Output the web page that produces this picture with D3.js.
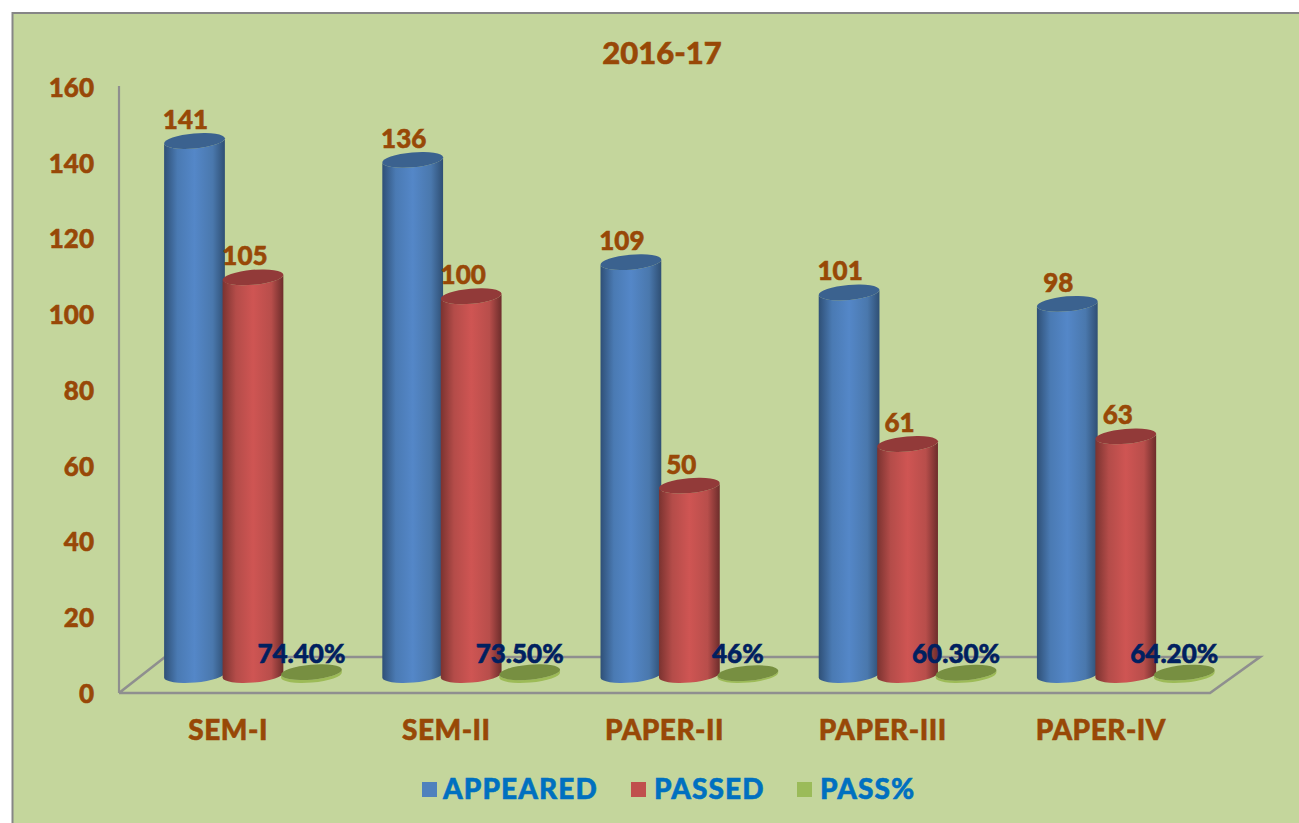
<!DOCTYPE html>
<html><head><meta charset="utf-8">
<script src="https://cdnjs.cloudflare.com/ajax/libs/d3/7.8.5/d3.min.js"></script>
<style>html,body{margin:0;padding:0;background:#fff;overflow:hidden}svg{display:block}
text{font-family:Lato,"Open Sans",sans-serif;font-weight:900;stroke-width:.55px}</style></head>
<body><svg id="c" width="1299" height="823"></svg>
<script>
const categories=["SEM-I","SEM-II","PAPER-II","PAPER-III","PAPER-IV"];
const appeared=[141,136,109,101,98];
const passed=[105,100,50,61,63];
const passPct=[0.744,0.735,0.46,0.603,0.642];
const passLabels=["74.40%","73.50%","46%","60.30%","64.20%"];
const seriesNames=["APPEARED","PASSED","PASS%"];
const yTicks=[0,20,40,60,80,100,120,140,160];

const W=1299,H=823,svg=d3.select("#c");
const BG="#c4d69c",BROWN="#984807",NAVY="#002060",LEG="#0070c0",GRID="#8f8f8f";
const x0=119,x1=1210,yB=693,yT=87,depthX=46,depthY=-36;
const x=d3.scaleBand().domain(categories).range([x0,x1]);
const y=d3.scaleLinear().domain([0,160]).range([yB,yT]);
const inner=d3.scalePoint().domain(seriesNames).range([x.bandwidth()*0.346,x.bandwidth()*0.882]);
const zOff=-18, rx=30.5, ry=7.5, tilt=-5;

const defs=svg.append("defs");
const palette={APPEARED:["#2f5077","#4a7ab3","#5487c8","#4a78ad","#2f4f74"],
 PASSED:["#7b3330","#b44c49","#cf5553","#b84e4b","#6d2d2b"]};
seriesNames.slice(0,2).forEach(s=>{
  const g=defs.append("linearGradient").attr("id","g"+s);
  [0,.22,.5,.8,1].forEach((o,i)=>g.append("stop").attr("offset",o).attr("stop-color",palette[s][i]));
});

svg.append("rect").attr("x",12.5).attr("y",13).attr("width",W).attr("height",H).attr("fill",BG)
  .attr("stroke","#868686").attr("stroke-width",2);

svg.append("text").attr("x",662).attr("y",64).attr("text-anchor","middle").attr("font-size",31).attr("fill",BROWN).attr("stroke",BROWN).text("2016-17");

const floor=d3.line()([[x0,yB],[x1,yB],[x1+depthX+4,yB+depthY],[x0+depthX,yB+depthY],[x0,yB]]);
svg.append("path").attr("d",floor).attr("fill","none").attr("stroke",GRID).attr("stroke-width",2.6);
svg.append("line").attr("x1",x0).attr("x2",x0).attr("y1",yB).attr("y2",y(160)-1).attr("stroke",GRID).attr("stroke-width",2.2);

const yAxis=d3.axisLeft(y).tickValues(yTicks).tickSize(0).tickPadding(25);
svg.append("g").attr("transform",`translate(${x0},1)`).call(yAxis)
  .call(g=>g.select(".domain").remove())
  .selectAll("text").attr("font-size",26).attr("fill",BROWN).attr("stroke",BROWN).style("font-family","Lato").style("font-weight",900);
const xAxis=d3.axisBottom(x).tickSize(0).tickPadding(27);
svg.append("g").attr("transform",`translate(0,${yB})`).call(xAxis)
  .call(g=>g.select(".domain").remove())
  .selectAll("text").attr("font-size",28).attr("letter-spacing",0.5).attr("fill",BROWN).attr("stroke",BROWN).style("font-family","Lato").style("font-weight",900);

const rad=tilt*Math.PI/180, dx=rx*Math.cos(rad), dy=rx*Math.sin(rad);
function cyl(cx,v,fill,top){
  const yb=y(0)+zOff, yt=y(v)+zOff;
  const d=`M${cx-dx},${yt-dy}L${cx-dx},${yb-dy}A${rx},${ry} ${tilt} 0 0 ${cx+dx},${yb+dy}L${cx+dx},${yt+dy}A${rx},${ry} ${tilt} 0 1 ${cx-dx},${yt-dy}Z`;
  const g=svg.append("g");
  g.append("path").attr("d",d).attr("fill",fill);
  g.append("ellipse").attr("cx",0).attr("cy",0).attr("rx",rx).attr("ry",ry)
    .attr("transform",`translate(${cx},${yt}) rotate(${tilt})`).attr("fill",top);
}
categories.forEach((c,i)=>{
  const bx=k=>x(c)+inner(k);
  cyl(bx("APPEARED"),appeared[i],"url(#gAPPEARED)","#3b628f");
  cyl(bx("PASSED"),passed[i],"url(#gPASSED)","#923a39");
  cyl(bx("PASS%"),passPct[i],"#9dbb57","#778f41");
});
categories.forEach((c,i)=>{
  const lab=(k,t,col,size,off,yy)=>svg.append("text").attr("x",x(c)+inner(k)+off)
    .attr("y",yy).attr("text-anchor","middle").attr("font-size",size).attr("fill",col).attr("stroke",col).text(t);
  lab("APPEARED",appeared[i],BROWN,26,-9,y(appeared[i])+zOff-12);
  lab("PASSED",passed[i],BROWN,26,-8,y(passed[i])+zOff-12);
  lab("PASS%",passLabels[i],NAVY,26,-10,y(0)+zOff-12);
});
const legend=[{n:"APPEARED",c:"#4f81bd",sx:422,tx:443},{n:"PASSED",c:"#c0504d",sx:631,tx:654},{n:"PASS%",c:"#9bbb59",sx:797,tx:820}];
legend.forEach(l=>{
  svg.append("rect").attr("x",l.sx).attr("y",782).attr("width",15).attr("height",15).attr("fill",l.c);
  svg.append("text").attr("x",l.tx).attr("y",799).attr("font-size",28).attr("letter-spacing",1.1).attr("fill",LEG).attr("stroke",LEG).text(l.n);
});
</script></body></html>
